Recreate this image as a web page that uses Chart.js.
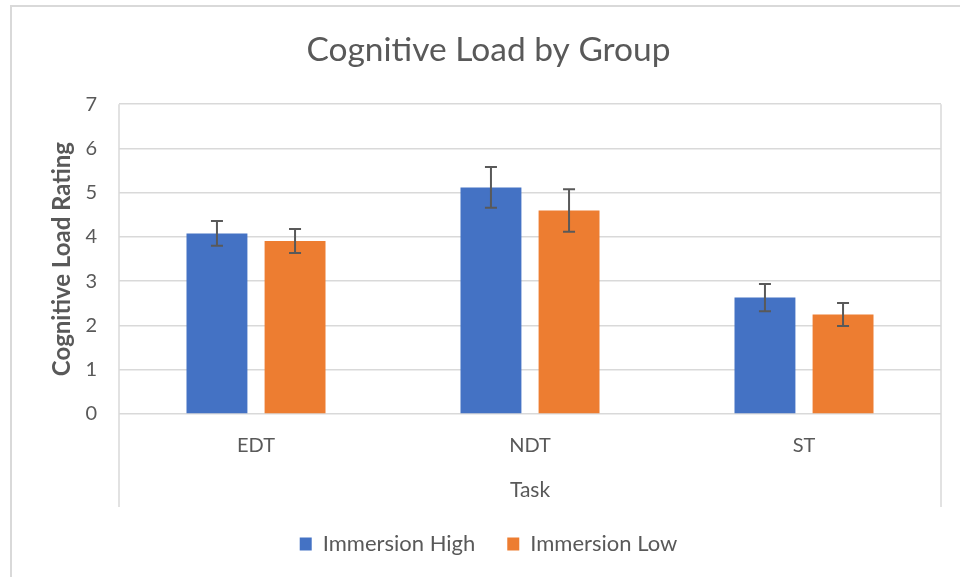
<!DOCTYPE html>
<html lang="en">
<head>
<meta charset="UTF-8">
<title>Cognitive Load by Group</title>
<script src="https://cdn.jsdelivr.net/npm/chart.js@4.4.0/dist/chart.umd.min.js"></script>
<style>
    html, body { margin: 0; padding: 0; background: #fff; overflow: hidden; }
    .frame {
        position: absolute;
        left: 10px;
        top: 5px;
        width: 1000px;
        height: 700px;
        border-left: 2px solid #d9d9d9;
        border-top: 2px solid #d9d9d9;
        pointer-events: none;
    }
    .container { width: 960px; height: 577px; }
</style>
</head>
<body>
<div class="container">
    <canvas id="myChart" width="960" height="577"></canvas>
</div>
<div class="frame"></div>
<script>
var tasks = ['EDT', 'NDT', 'ST'];
var highMeans = [4.08, 5.12, 2.63];
var highErr = [0.28, 0.46, 0.31];
var lowMeans = [3.91, 4.60, 2.25];
var lowErr = [0.27, 0.48, 0.26];

var gridColor = '#d9d9d9';
var textColor = '#595959';
var fontFamily = 'Lato, "Open Sans", sans-serif';
var lineOverhang = -6; // side lines run this far past the bottom of the x scale (negative = further down)

// error bars drawn on top of each bar, using the y scale
var errorBars = {
    id: 'errorBars',
    afterDatasetsDraw: function (chart) {
        var ctx = chart.ctx;
        var y = chart.scales.y;
        ctx.save();
        ctx.strokeStyle = '#595959';
        ctx.lineWidth = 2;
        chart.data.datasets.forEach(function (ds, di) {
            var meta = chart.getDatasetMeta(di);
            meta.data.forEach(function (bar, i) {
                var v = ds.data[i];
                var e = ds.errors[i];
                var top = y.getPixelForValue(v + e);
                var bot = y.getPixelForValue(v - e);
                ctx.beginPath();
                ctx.moveTo(bar.x, top);
                ctx.lineTo(bar.x, bot);
                ctx.moveTo(bar.x - 6, top);
                ctx.lineTo(bar.x + 6, top);
                ctx.moveTo(bar.x - 6, bot);
                ctx.lineTo(bar.x + 6, bot);
                ctx.stroke();
            });
        });
        ctx.restore();
    }
};

// plot area side lines that run down past the category labels
var sideLines = {
    id: 'sideLines',
    afterDraw: function (chart) {
        var ctx = chart.ctx;
        var a = chart.chartArea;
        var bottom = chart.scales.x.bottom - lineOverhang;
        ctx.save();
        ctx.strokeStyle = gridColor;
        ctx.lineWidth = 1.5;
        ctx.beginPath();
        ctx.moveTo(a.left, a.top);
        ctx.lineTo(a.left, bottom);
        ctx.moveTo(a.right, a.top);
        ctx.lineTo(a.right, bottom);
        ctx.stroke();
        ctx.restore();
    }
};

var ctx = document.getElementById('myChart');
var myChart = new Chart(ctx, {
    type: 'bar',
    data: {
        labels: tasks,
        datasets: [
            {
                label: 'Immersion High',
                data: highMeans,
                errors: highErr,
                backgroundColor: '#4472C4'
            },
            {
                label: 'Immersion Low',
                data: lowMeans,
                errors: lowErr,
                backgroundColor: '#ED7D31'
            }
        ]
    },
    plugins: [errorBars, sideLines],
    options: {
        responsive: false,
        animation: false,
        categoryPercentage: 0.57,
        barPercentage: 0.78,
        layout: {
            // the chart object runs a little past the right edge of the picture
            padding: { left: 10, right: -7, top: 0, bottom: 12 }
        },
        plugins: {
            title: {
                display: true,
                text: 'Cognitive Load by Group',
                color: textColor,
                font: { family: fontFamily, size: 33.5, weight: 'normal' },
                padding: { top: 30, bottom: 34 }
            },
            legend: {
                position: 'bottom',
                labels: {
                    color: textColor,
                    boxWidth: 12,
                    boxHeight: 13,
                    padding: 32,
                    font: { family: fontFamily, size: 22 }
                }
            },
            tooltip: { enabled: false }
        },
        scales: {
            x: {
                grid: { display: false, drawTicks: false },
                border: { display: false },
                ticks: {
                    color: textColor,
                    padding: 20,
                    font: { family: fontFamily, size: 20 }
                },
                title: {
                    display: true,
                    text: 'Task',
                    color: textColor,
                    padding: { top: 0, bottom: 0 },
                    font: { family: fontFamily, size: 21, lineHeight: 1 }
                },
                afterFit: function (scale) { scale.height = 87; }
            },
            y: {
                min: 0,
                max: 7,
                ticks: {
                    stepSize: 1,
                    color: textColor,
                    padding: 22,
                    font: { family: fontFamily, size: 20 }
                },
                grid: {
                    color: gridColor,
                    lineWidth: 1.5,
                    drawTicks: false
                },
                border: { display: false },
                title: {
                    display: true,
                    text: 'Cognitive Load Rating',
                    color: textColor,
                    padding: { top: 38, bottom: 0 },
                    font: { family: fontFamily, size: 24, weight: 'bold' }
                },
                afterFit: function (scale) { scale.width = 109; }
            },
            // empty right-hand strip so the plot area ends where the reference's does
            pad: {
                position: 'right',
                min: 0,
                max: 7,
                grid: { display: false, drawTicks: false },
                border: { display: false },
                ticks: { display: false },
                afterFit: function (scale) { scale.width = 26; }
            }
        }
    }
});
</script>
</body>
</html>
